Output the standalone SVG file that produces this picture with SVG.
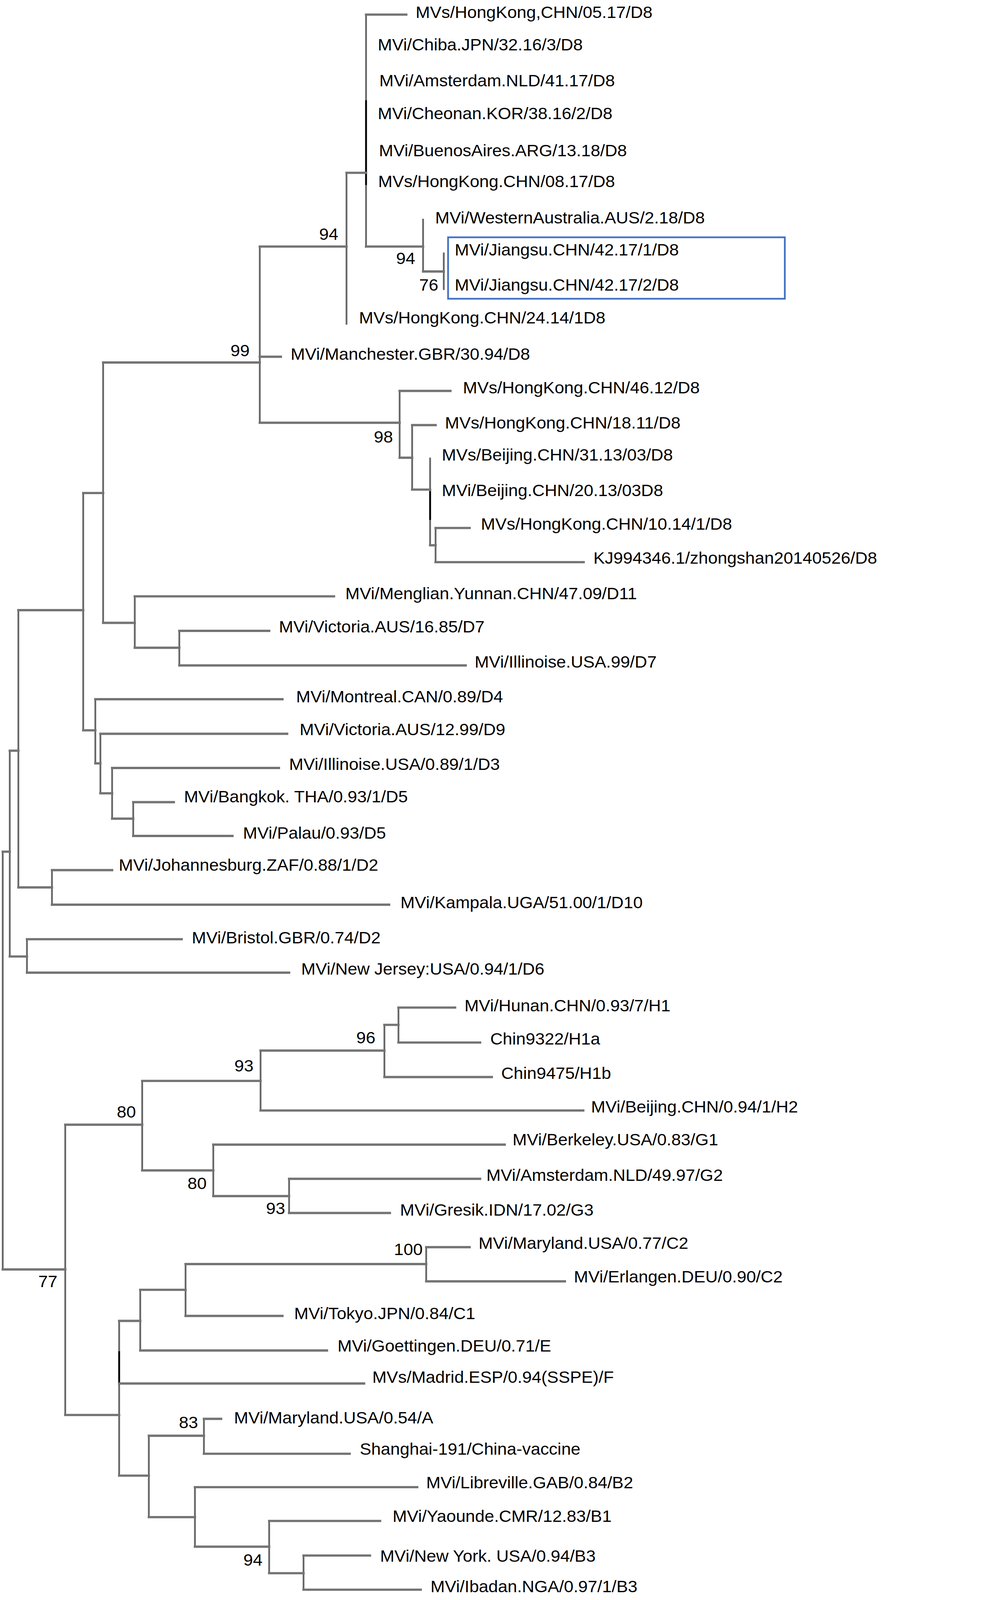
<svg xmlns="http://www.w3.org/2000/svg" width="2524" height="4167" viewBox="0 0 2524 4167">
<style>
.h{stroke:#747474;stroke-width:6;fill:none;stroke-linecap:square}
.v{stroke:#666;stroke-width:4.5;fill:none;stroke-linecap:square}
.k{stroke:#000;stroke-width:4.5;fill:none}
text{font-family:"Liberation Sans",Arial,sans-serif;font-size:44px;fill:#000}
.bs{text-anchor:end}
</style>
<rect width="2524" height="4167" fill="#fff"/>
<g id="tree" transform="matrix(1 0 0 0.983 0 0)">
<g id="connectors">
<path class="v" d="M7 2218V3306"/>
<path class="v" d="M25 1955V2491"/>
<path class="v" d="M47 1589V2311"/>
<path class="v" d="M213 1284V1902"/>
<path class="v" d="M264 944V1622"/>
<path class="v" d="M665 642V1101"/>
<path class="v" d="M887 450V843"/>
<path class="v" d="M937 38V643"/>
<path class="v" d="M1083 572V707"/>
<path class="v" d="M1136 660V753"/>
<path class="v" d="M1023 1018V1192"/>
<path class="v" d="M1055 1107V1275"/>
<path class="v" d="M1101 1194V1420"/>
<path class="v" d="M1115 1375V1464"/>
<path class="v" d="M345 1553V1687"/>
<path class="v" d="M459 1643V1733"/>
<path class="v" d="M244 1821V1988"/>
<path class="v" d="M257 1911V2066"/>
<path class="v" d="M287 2000V2132"/>
<path class="v" d="M341 2089V2177"/>
<path class="v" d="M133 2266V2356"/>
<path class="v" d="M69 2446V2533"/>
<path class="v" d="M167 2929V3685"/>
<path class="v" d="M364 2815V3048"/>
<path class="v" d="M667 2736V2892"/>
<path class="v" d="M984 2669V2805"/>
<path class="v" d="M1020 2624V2715"/>
<path class="v" d="M546 2981V3115"/>
<path class="v" d="M740 3070V3159"/>
<path class="v" d="M305 3440V3843"/>
<path class="v" d="M359 3359V3517"/>
<path class="v" d="M475 3292V3427"/>
<path class="v" d="M1091 3248V3337"/>
<path class="v" d="M381 3739V3951"/>
<path class="v" d="M522 3695V3786"/>
<path class="v" d="M499 3873V4028"/>
<path class="v" d="M689 3961V4097"/>
<path class="v" d="M777 4051V4140"/>
<path class="k" d="M937 261V482"/>
<path class="k" d="M1101 1279V1354"/>
<path class="k" d="M305 3519V3602"/>
<path class="h" d="M7 2218H25"/>
<path class="h" d="M25 1955H47"/>
<path class="h" d="M47 1589H213"/>
<path class="h" d="M213 1284H264"/>
<path class="h" d="M264 944H665"/>
<path class="h" d="M665 642H887"/>
<path class="h" d="M887 450H937"/>
<path class="h" d="M937 38H1040"/>
<path class="h" d="M937 642H1083"/>
<path class="h" d="M1083 707H1136"/>
<path class="h" d="M665 929H719"/>
<path class="h" d="M665 1101H1023"/>
<path class="h" d="M1023 1018H1153"/>
<path class="h" d="M1023 1192H1055"/>
<path class="h" d="M1055 1107H1115"/>
<path class="h" d="M1055 1275H1101"/>
<path class="h" d="M1101 1420H1115"/>
<path class="h" d="M1115 1375H1202"/>
<path class="h" d="M1115 1464H1494"/>
<path class="h" d="M264 1622H345"/>
<path class="h" d="M345 1553H855"/>
<path class="h" d="M345 1687H459"/>
<path class="h" d="M459 1643H689"/>
<path class="h" d="M459 1733H1192"/>
<path class="h" d="M213 1902H244"/>
<path class="h" d="M244 1821H723"/>
<path class="h" d="M244 1988H257"/>
<path class="h" d="M257 1911H735"/>
<path class="h" d="M257 2066H287"/>
<path class="h" d="M287 2000H714"/>
<path class="h" d="M287 2132H341"/>
<path class="h" d="M341 2089H445"/>
<path class="h" d="M341 2177H595"/>
<path class="h" d="M47 2311H133"/>
<path class="h" d="M133 2266H287"/>
<path class="h" d="M133 2356H996"/>
<path class="h" d="M25 2491H69"/>
<path class="h" d="M69 2446H465"/>
<path class="h" d="M69 2533H740"/>
<path class="h" d="M7 3306H167"/>
<path class="h" d="M167 2929H364"/>
<path class="h" d="M364 2815H667"/>
<path class="h" d="M667 2736H984"/>
<path class="h" d="M984 2669H1020"/>
<path class="h" d="M1020 2624H1165"/>
<path class="h" d="M1020 2715H1229"/>
<path class="h" d="M984 2805H1259"/>
<path class="h" d="M667 2892H1493"/>
<path class="h" d="M364 3048H546"/>
<path class="h" d="M546 2981H1292"/>
<path class="h" d="M546 3115H740"/>
<path class="h" d="M740 3070H1229"/>
<path class="h" d="M740 3159H998"/>
<path class="h" d="M167 3685H305"/>
<path class="h" d="M305 3440H359"/>
<path class="h" d="M359 3359H475"/>
<path class="h" d="M475 3292H1091"/>
<path class="h" d="M1091 3248H1202"/>
<path class="h" d="M1091 3337H1446"/>
<path class="h" d="M475 3427H723"/>
<path class="h" d="M359 3517H837"/>
<path class="h" d="M305 3603H932"/>
<path class="h" d="M305 3843H381"/>
<path class="h" d="M381 3739H522"/>
<path class="h" d="M522 3695H566"/>
<path class="h" d="M522 3786H895"/>
<path class="h" d="M381 3951H499"/>
<path class="h" d="M499 3873H1068"/>
<path class="h" d="M499 4028H689"/>
<path class="h" d="M689 3961H973"/>
<path class="h" d="M689 4097H777"/>
<path class="h" d="M777 4051H947"/>
<path class="h" d="M777 4140H1077"/>
</g>
<g id="highlight-box">
<rect x="1147" y="618" width="862" height="160" fill="none" stroke="#4472c4" stroke-width="4.5"/>
</g>
<g id="leaves">
<g id="t01"><text x="1064" y="47">MVs/HongKong,CHN/05.17/D8</text></g>
<g id="t02"><text x="967" y="131">MVi/Chiba.JPN/32.16/3/D8</text></g>
<g id="t03"><text x="971" y="225">MVi/Amsterdam.NLD/41.17/D8</text></g>
<g id="t04"><text x="967" y="310">MVi/Cheonan.KOR/38.16/2/D8</text></g>
<g id="t05"><text x="970" y="407">MVi/BuenosAires.ARG/13.18/D8</text></g>
<g id="t06"><text x="968" y="487">MVs/HongKong.CHN/08.17/D8</text></g>
<g id="t07"><text x="1114" y="582">MVi/WesternAustralia.AUS/2.18/D8</text></g>
<g id="t08"><text x="1164" y="665">MVi/Jiangsu.CHN/42.17/1/D8</text></g>
<g id="t09"><text x="1164" y="757">MVi/Jiangsu.CHN/42.17/2/D8</text></g>
<g id="t10"><text x="919" y="842">MVs/HongKong.CHN/24.14/1D8</text></g>
<g id="t11"><text x="744" y="937">MVi/Manchester.GBR/30.94/D8</text></g>
<g id="t12"><text x="1185" y="1024">MVs/HongKong.CHN/46.12/D8</text></g>
<g id="t13"><text x="1139" y="1116">MVs/HongKong.CHN/18.11/D8</text></g>
<g id="t14"><text x="1131" y="1199">MVs/Beijing.CHN/31.13/03/D8</text></g>
<g id="t15"><text x="1131" y="1292">MVi/Beijing.CHN/20.13/03D8</text></g>
<g id="t16"><text x="1231" y="1379">MVs/HongKong.CHN/10.14/1/D8</text></g>
<g id="t17"><text x="1519" y="1468">KJ994346.1/zhongshan20140526/D8</text></g>
<g id="t18"><text x="884" y="1561">MVi/Menglian.Yunnan.CHN/47.09/D11</text></g>
<g id="t19"><text x="714" y="1647">MVi/Victoria.AUS/16.85/D7</text></g>
<g id="t20"><text x="1215" y="1739">MVi/Illinoise.USA.99/D7</text></g>
<g id="t21"><text x="758" y="1829">MVi/Montreal.CAN/0.89/D4</text></g>
<g id="t22"><text x="767" y="1915">MVi/Victoria.AUS/12.99/D9</text></g>
<g id="t23"><text x="740" y="2005">MVi/Illinoise.USA/0.89/1/D3</text></g>
<g id="t24"><text x="471" y="2090">MVi/Bangkok. THA/0.93/1/D5</text></g>
<g id="t25"><text x="622" y="2184">MVi/Palau/0.93/D5</text></g>
<g id="t26"><text x="304" y="2268">MVi/Johannesburg.ZAF/0.88/1/D2</text></g>
<g id="t27"><text x="1025" y="2365">MVi/Kampala.UGA/51.00/1/D10</text></g>
<g id="t28"><text x="491" y="2457">MVi/Bristol.GBR/0.74/D2</text></g>
<g id="t29"><text x="771" y="2538">MVi/New Jersey:USA/0.94/1/D6</text></g>
<g id="t30"><text x="1189" y="2634">MVi/Hunan.CHN/0.93/7/H1</text></g>
<g id="t31"><text x="1255" y="2720">Chin9322/H1a</text></g>
<g id="t32"><text x="1283" y="2810">Chin9475/H1b</text></g>
<g id="t33"><text x="1513" y="2897">MVi/Beijing.CHN/0.94/1/H2</text></g>
<g id="t34"><text x="1312" y="2983">MVi/Berkeley.USA/0.83/G1</text></g>
<g id="t35"><text x="1245" y="3075">MVi/Amsterdam.NLD/49.97/G2</text></g>
<g id="t36"><text x="1024" y="3166">MVi/Gresik.IDN/17.02/G3</text></g>
<g id="t37"><text x="1225" y="3252">MVi/Maryland.USA/0.77/C2</text></g>
<g id="t38"><text x="1469" y="3340">MVi/Erlangen.DEU/0.90/C2</text></g>
<g id="t39"><text x="753" y="3435">MVi/Tokyo.JPN/0.84/C1</text></g>
<g id="t40"><text x="864" y="3520">MVi/Goettingen.DEU/0.71/E</text></g>
<g id="t41"><text x="953" y="3601">MVs/Madrid.ESP/0.94(SSPE)/F</text></g>
<g id="t42"><text x="599" y="3707">MVi/Maryland.USA/0.54/A</text></g>
<g id="t43"><text x="921" y="3788">Shanghai-191/China-vaccine</text></g>
<g id="t44"><text x="1091" y="3876">MVi/Libreville.GAB/0.84/B2</text></g>
<g id="t45"><text x="1005" y="3963">MVi/Yaounde.CMR/12.83/B1</text></g>
<g id="t46"><text x="973" y="4067">MVi/New York. USA/0.94/B3</text></g>
<g id="t47"><text x="1102" y="4146">MVi/Ibadan.NGA/0.97/1/B3</text></g>
</g>
<g id="bootstrap">
<g id="b01"><text class="bs" x="866" y="625">94</text></g>
<g id="b02"><text class="bs" x="1063" y="688">94</text></g>
<g id="b03"><text class="bs" x="1122" y="757">76</text></g>
<g id="b04"><text class="bs" x="639" y="928">99</text></g>
<g id="b05"><text class="bs" x="1006" y="1153">98</text></g>
<g id="b06"><text class="bs" x="961" y="2717">96</text></g>
<g id="b07"><text class="bs" x="649" y="2790">93</text></g>
<g id="b08"><text class="bs" x="348" y="2910">80</text></g>
<g id="b09"><text class="bs" x="529" y="3097">80</text></g>
<g id="b10"><text class="bs" x="730" y="3162">93</text></g>
<g id="b11"><text class="bs" x="1082" y="3269">100</text></g>
<g id="b12"><text class="bs" x="147" y="3352">77</text></g>
<g id="b13"><text class="bs" x="507" y="3719">83</text></g>
<g id="b14"><text class="bs" x="672" y="4077">94</text></g>
</g>
</g>
</svg>
